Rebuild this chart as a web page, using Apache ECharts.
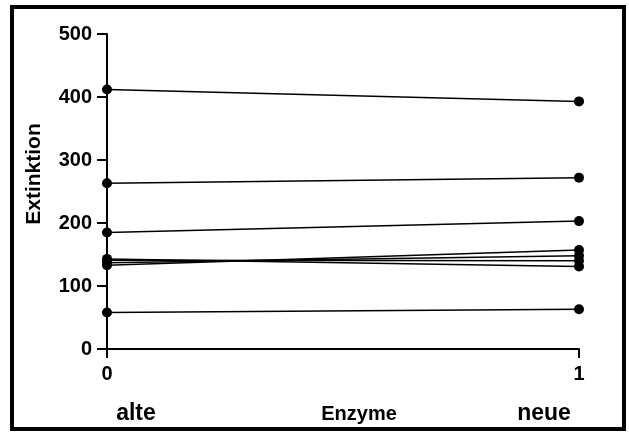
<!DOCTYPE html>
<html>
<head>
<meta charset="utf-8">
<script src="https://cdn.jsdelivr.net/npm/echarts@6/dist/echarts.min.js"></script>
<style>
  html, body { margin: 0; padding: 0; background: #fff; }
  #chart { width: 629px; height: 436px; }
</style>
</head>
<body>
<div id="chart"></div>
<script>
// Extinction measured with the old enzyme (x = 0) and the new enzyme (x = 1)
const xPositions = [0, 1];
const alteValues = [412, 263, 185, 133, 137, 141, 143, 58];
const neueValues = [393, 272, 203, 157, 148, 140, 131, 63];
const yTicks = [0, 100, 200, 300, 400, 500];
const xTicks = [0, 1];

const FONT = '"Liberation Sans", Arial, sans-serif';

const series = alteValues.map((a, i) => ({
  type: 'line',
  data: [[xPositions[0], a], [xPositions[1], neueValues[i]]],
  symbol: 'circle',
  symbolSize: 10,
  lineStyle: { color: '#000', width: 1.5 },
  itemStyle: { color: '#000' },
  animation: false,
  z: 3
}));

const chart = echarts.init(document.getElementById('chart'), null, { renderer: 'canvas' });
chart.setOption({
  backgroundColor: '#fff',
  animation: false,
  grid: { left: 107, right: 50, top: 34, bottom: 87 },
  xAxis: {
    type: 'value',
    min: xTicks[0],
    max: xTicks[xTicks.length - 1],
    interval: 1,
    splitLine: { show: false },
    axisLine: { lineStyle: { color: '#000', width: 2 } },
    axisTick: { show: true, length: 9, lineStyle: { color: '#000', width: 2 } },
    axisLabel: { color: '#000', fontFamily: FONT, fontWeight: 'bold', fontSize: 20, margin: 15 }
  },
  yAxis: {
    type: 'value',
    min: yTicks[0],
    max: yTicks[yTicks.length - 1],
    interval: 100,
    splitLine: { show: false },
    axisLine: { show: true, lineStyle: { color: '#000', width: 2 } },
    axisTick: { show: true, length: 10, lineStyle: { color: '#000', width: 2 } },
    axisLabel: { color: '#000', fontFamily: FONT, fontWeight: 'bold', fontSize: 20, margin: 15 }
  },
  series: series,
  graphic: [
    {
      type: 'rect',
      shape: { x: 12, y: 7, width: 612, height: 422 },
      style: { fill: 'none', stroke: '#000', lineWidth: 4 },
      silent: true
    },
    {
      type: 'text', x: 34, y: 174, rotation: Math.PI / 2,
      style: { text: 'Extinktion', fill: '#000', font: 'bold 21px ' + FONT, textAlign: 'center', textVerticalAlign: 'middle' }
    },
    {
      type: 'text', x: 136, y: 414,
      style: { text: 'alte', fill: '#000', font: 'bold 23px ' + FONT, textAlign: 'center', textVerticalAlign: 'middle' }
    },
    {
      type: 'text', x: 359, y: 414,
      style: { text: 'Enzyme', fill: '#000', font: 'bold 20px ' + FONT, textAlign: 'center', textVerticalAlign: 'middle' }
    },
    {
      type: 'text', x: 544, y: 414,
      style: { text: 'neue', fill: '#000', font: 'bold 23px ' + FONT, textAlign: 'center', textVerticalAlign: 'middle' }
    }
  ]
});
</script>
</body>
</html>
